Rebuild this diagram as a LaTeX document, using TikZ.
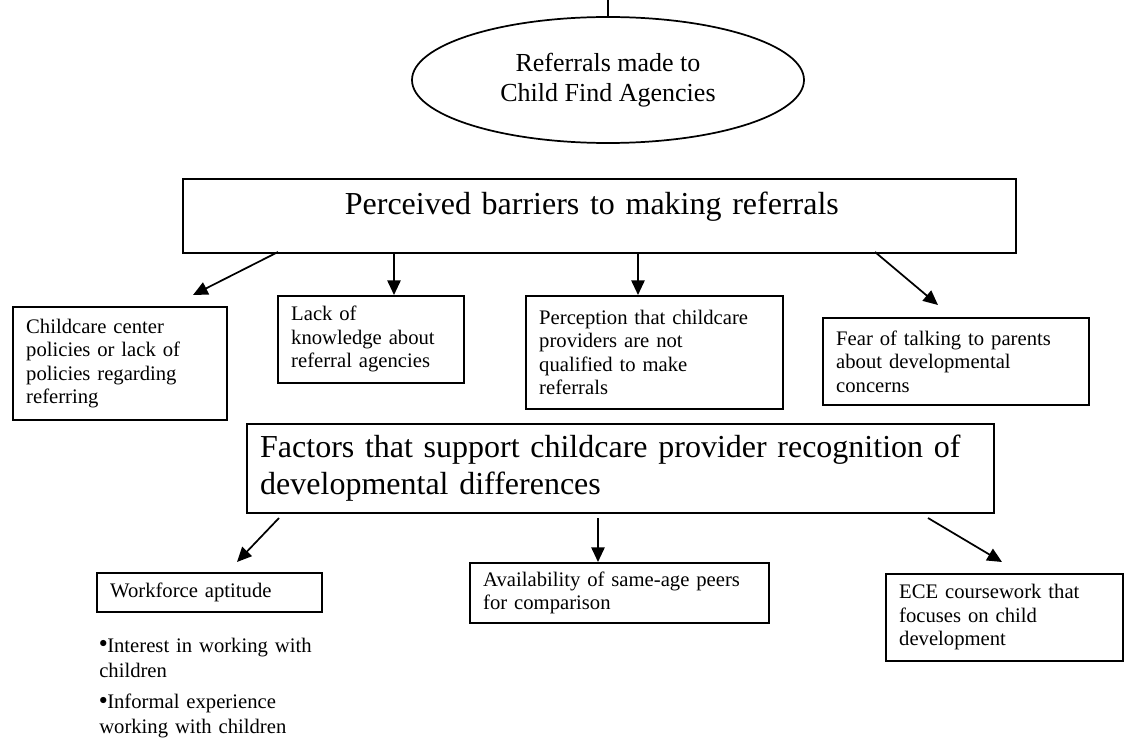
\documentclass[tikz,border=0pt]{standalone}
\usepackage{fontspec}
\setmainfont{Liberation Serif}
\usetikzlibrary{shapes.geometric, arrows.meta, positioning}
\newcommand{\boxfont}{\fontsize{15.5}{17.6}\selectfont}
\newcommand{\listfont}{\fontsize{15.5}{18.5}\selectfont}
\newcommand{\headfont}{\fontsize{24}{27.75}\selectfont}
\newcommand{\ovalfont}{\fontsize{19.5}{22.5}\selectfont}
\newcommand{\dotitem}{\raisebox{3.5pt}{\fontsize{12}{12}\selectfont$\bullet$}}
\tikzset{
    x=0.75pt, y=-0.75pt, % one unit is one pixel of the page, y runs down
    >={Triangle[length=11pt, width=10pt]}, % solid black arrow heads
    barrier/.style={draw, line width=1.3pt, anchor=north west, align=left, inner xsep=10pt, inner ysep=0pt, font=\boxfont}, % the small boxes
    heading/.style={barrier, font=\headfont}, % the two big boxes
    pointer/.style={->, line width=1.3pt}, % the arrows
}

\begin{document}
\begin{tikzpicture}
\useasboundingbox (0,0) rectangle (1132,738);
\node[draw, ellipse, line width=1.3pt, minimum width=294pt, minimum height=94.5pt, inner sep=0pt, align=center, font=\ovalfont] (referrals) at (608,80) {Referrals made to\\Child Find Agencies};
\coordinate (entry) at (608,0);
\draw[line width=1.3pt] (entry) -- (referrals.north);

% barriers
\node[heading, inner xsep=121.5pt, text width=381.75pt, minimum height=55.5pt, text height=16.5pt, text depth=19pt] (barriers) at (182,178) {Perceived barriers to making referrals};
\node[barrier, text width=140.5pt, minimum height=84.75pt] (policies) at (12,306) {Childcare center\\policies or lack of\\policies regarding\\referring};
\node[barrier, text width=119.5pt, minimum height=65.25pt] (knowledge) at (277,295) {Lack of\\knowledge about\\referral agencies};
\node[barrier, text width=172.75pt, minimum height=84.75pt] (qualified) at (525,295) {Perception that childcare\\providers are not\\qualified to make\\referrals};
\node[barrier, text width=179.5pt, minimum height=65.25pt] (fear) at (822,317) {Fear of talking to parents\\about developmental\\concerns};

% supporting factors
\node[heading, text width=540.25pt, minimum height=66.75pt] (factors) at (246,423) {Factors that support childcare provider recognition of\\developmental differences};
\node[barrier, text width=148.75pt, minimum height=29.25pt] (aptitude) at (96,572) {Workforce aptitude};
\node[anchor=north west, align=left, inner sep=0pt, text width=200pt, font=\listfont] (interests) at (99,638) {\dotitem Interest in working with\\children\\[5.25pt]\dotitem Informal experience\\working with children};
\node[barrier, text width=204.25pt, minimum height=45pt] (peers) at (469,562) {Availability of same-age peers\\for comparison};
\node[barrier, text width=157.75pt, minimum height=65.25pt] (coursework) at (885,573) {ECE coursework that\\focuses on child\\development};

\coordinate (b1) at (278,252);
\coordinate (b1end) at (193,295);
\coordinate (b2) at (394,252);
\coordinate (b3) at (638,252);
\coordinate (b4) at (875,252);
\coordinate (b4end) at (938,305);
\coordinate (f1) at (279,518);
\coordinate (f1end) at (237,562);
\coordinate (f2) at (598,518);
\coordinate (f3) at (928,518);
\coordinate (f3end) at (1002,562);

\draw[pointer] (b1) -- (b1end);
\draw[pointer] (b2) -- (b2 |- knowledge.north);
\draw[pointer] (b3) -- (b3 |- qualified.north);
\draw[pointer] (b4) -- (b4end);
\draw[pointer] (f1) -- (f1end);
\draw[pointer] (f2) -- (f2 |- peers.north);
\draw[pointer] (f3) -- (f3end);
\end{tikzpicture}
\end{document}
